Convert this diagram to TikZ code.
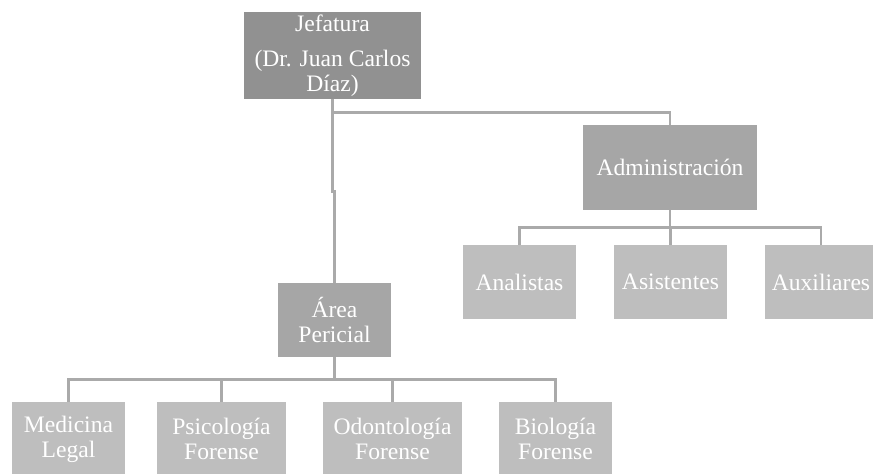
\documentclass[tikz,border=0pt]{standalone}
\usepackage{fontspec}
\setmainfont{Liberation Serif}
\definecolor{jefgray}{RGB}{145,145,145}
\definecolor{midgray}{RGB}{166,166,166}
\definecolor{leafgray}{RGB}{190,190,190}
\definecolor{linegray}{RGB}{170,170,170}

\begin{document}
\begin{tikzpicture}[x=0.5pt, y=-0.5pt,
		every node/.style={font=\fontsize{11.8}{12.5}\selectfont, text=white, align=center, inner sep=0pt},
		headbox/.style={rectangle, fill=jefgray, minimum width=88.5pt, minimum height=43.5pt},
		unitbox/.style={rectangle, fill=midgray, minimum width=#1, minimum height=37pt},
		leafbox/.style={rectangle, fill=leafgray, minimum width=#1, minimum height=37pt},
		conn/.style={draw=linegray, line width=1.3pt}]
		\useasboundingbox (0,0) rectangle (873,473);
		% jefatura
		\node [headbox] (jef) at (332.5,55.5) {Jefatura\\[5pt](Dr. Juan Carlos\\D\'iaz)};
		% administracion y su personal
		\node [unitbox=87pt, minimum height=42.5pt] (adm) at (670,167.5) {Administraci\'on};
		\node [leafbox=56.5pt] (ana) at (519.5,282) {Analistas};
		\node [leafbox=56.5pt] (asi) at (670.5,282) {Asistentes};
		\node [leafbox=56.5pt] (aux) at (821,282) {Auxiliares};
		% area pericial
		\node [unitbox=56.5pt] (area) at (334.5,320) {\'Area\\Pericial};
		\node [leafbox=56.5pt] (med) at (68.5,439) {Medicina\\Legal};
		\node [leafbox=64.5pt] (psi) at (221.5,439) {Psicolog\'ia\\Forense};
		\node [leafbox=69.5pt] (odo) at (392.5,439) {Odontolog\'ia\\Forense};
		\node [leafbox=56.5pt] (bio) at (555.5,439) {Biolog\'ia\\Forense};

		\draw[conn] (jef.south) -- ++(0,13) -| (adm.north);
		\draw[conn] (jef.south) -- ++(0,92) -| (area.north);
		\foreach \sub in {ana,asi,aux}
			\draw[conn] (adm.south) -- ++(0,17) -| (\sub.north);
		\foreach \sub in {med,psi,odo,bio}
			\draw[conn] (area.south) -- ++(0,22) -| (\sub.north);
	\end{tikzpicture}
\end{document}
